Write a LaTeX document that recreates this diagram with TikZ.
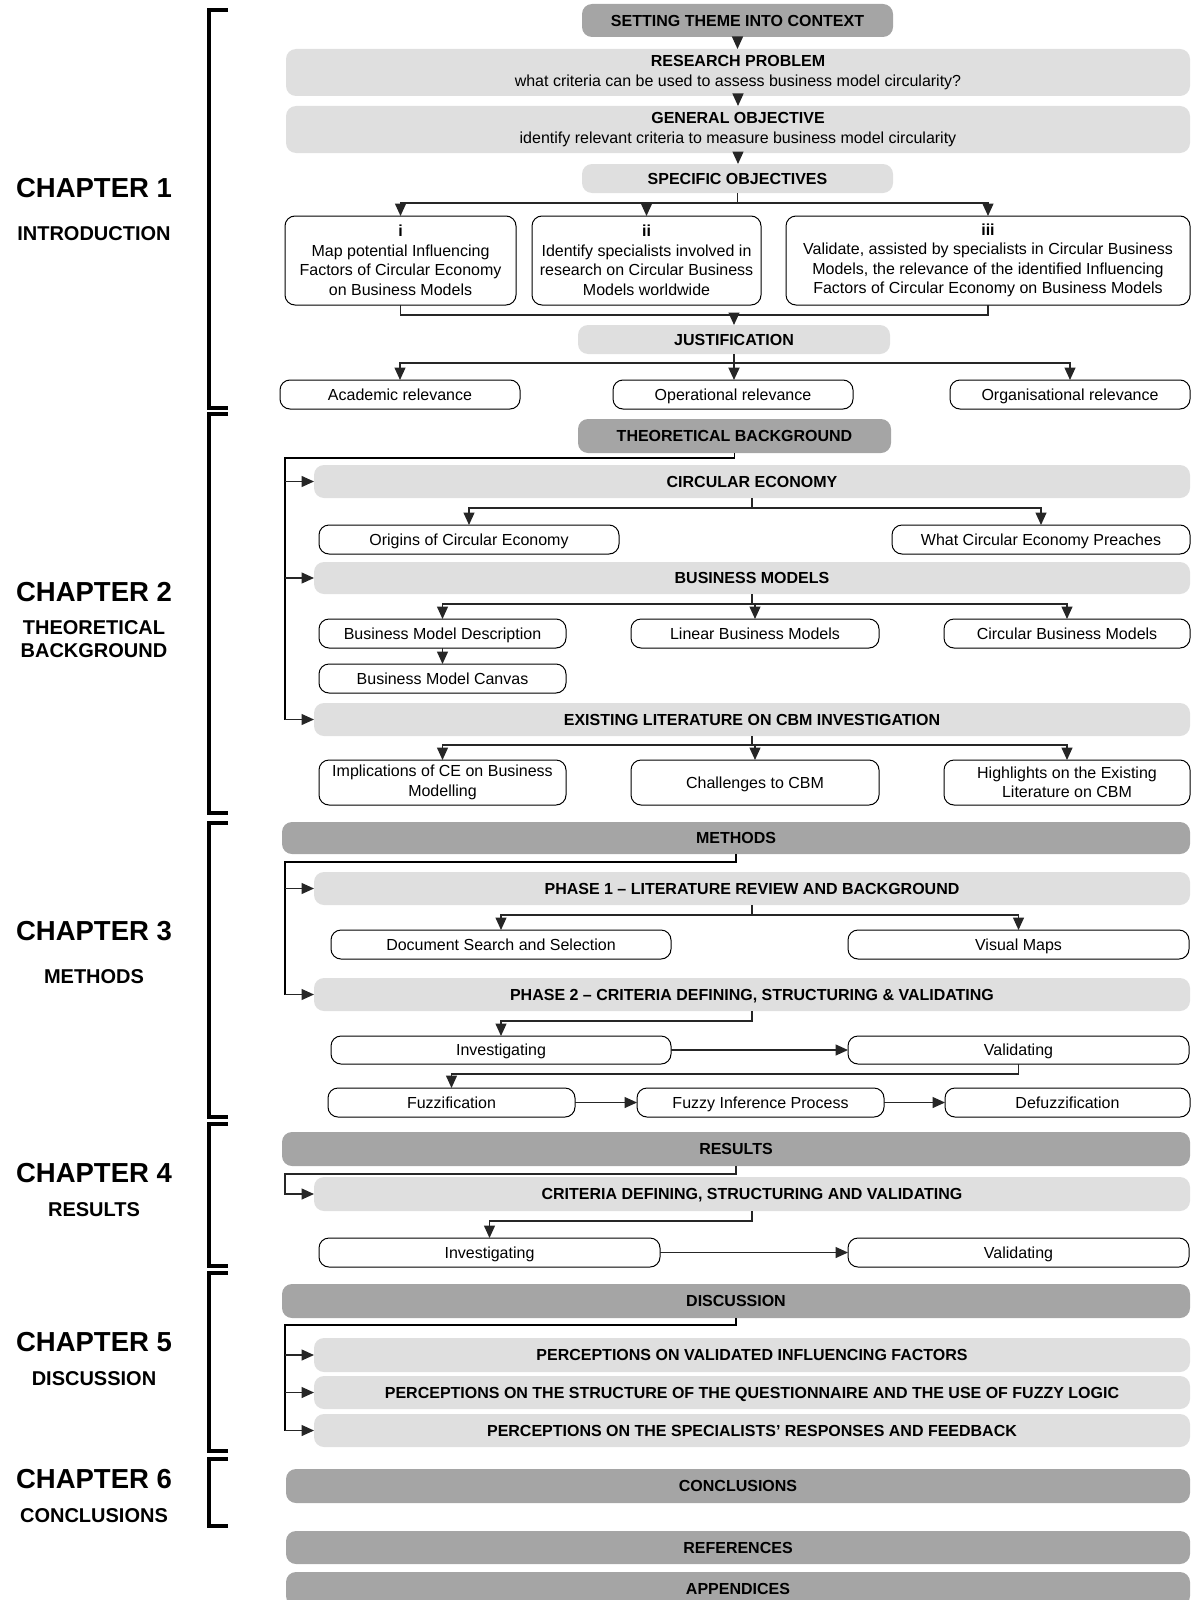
\documentclass[tikz,border=0pt]{standalone}
\usepackage{fontspec}
\setmainfont{Liberation Sans}
\usetikzlibrary{arrows.meta}
\definecolor{dk}{HTML}{A5A5A5}
\definecolor{lt}{HTML}{DFDFDF}
\begin{document}
\begin{tikzpicture}[x=1pt,y=-1pt,
  every node/.style={inner sep=0pt, outer sep=0pt, align=center, font=\fontsize{16}{19.5}\selectfont},
  wh/.style 2 args={minimum width=#1pt, minimum height=#2pt},
  oneline/.style={text height=11.5pt, text depth=0pt},
  dkbox/.style={oneline, fill=dk, rounded corners=10pt, font=\fontsize{16}{19.5}\selectfont\bfseries},
  ltbox/.style={oneline, fill=lt, rounded corners=10pt, font=\fontsize{16}{19.5}\selectfont\bfseries},
  ltsub/.style={fill=lt, rounded corners=10pt},
  wboxm/.style={draw=black, line width=1pt, fill=white, rounded corners=10pt},
  wbox/.style={wboxm, oneline},
  ln/.style={draw=black!85, line width=1.4pt},
  arr/.style={ln, -{Triangle[length=12.5pt,width=11pt]}},
  brk/.style={draw=black, line width=4.5pt},
  chap/.style={font=\fontsize{27.5}{30}\selectfont\bfseries},
  chsub/.style={font=\fontsize{20}{23}\selectfont\bfseries}]

\useasboundingbox (0,0) rectangle (1192,1600);

% ---------- chapter brackets ----------
\draw[brk] (228,10)   -| (209,408)  -- (228,408);
\draw[brk] (228,414)  -| (209,813)  -- (228,813);
\draw[brk] (228,823)  -| (209,1117) -- (228,1117);
\draw[brk] (228,1124) -| (209,1266) -- (228,1266);
\draw[brk] (228,1273) -| (209,1451) -- (228,1451);
\draw[brk] (228,1459) -| (209,1526) -- (228,1526);

% ---------- chapter labels ----------
\node[chap]  (c1)  at (94,188)  {CHAPTER 1};
\node[chsub] (c1s) at (94,234)  {INTRODUCTION};
\node[chap]  (c2)  at (94,592)  {CHAPTER 2};
\node[chsub] (c2s) at (94,639.5){THEORETICAL\\BACKGROUND};
\node[chap]  (c3)  at (94,931)  {CHAPTER 3};
\node[chsub] (c3s) at (94,977)  {METHODS};
\node[chap]  (c4)  at (94,1173) {CHAPTER 4};
\node[chsub] (c4s) at (94,1210) {RESULTS};
\node[chap]  (c5)  at (94,1342) {CHAPTER 5};
\node[chsub] (c5s) at (94,1379) {DISCUSSION};
\node[chap]  (c6)  at (94,1479) {CHAPTER 6};
\node[chsub] (c6s) at (94,1516) {CONCLUSIONS};

% ---------- chapter 1 ----------
\node[dkbox, wh={311}{33}] (stc) at (737.5,20.5) {SETTING THEME INTO CONTEXT};
\node[ltsub, wh={904}{47}] (rp) at (738,72.5) {\textbf{RESEARCH PROBLEM}\\what criteria can be used to assess business model circularity?};
\node[ltsub, wh={904}{47}] (go) at (738,129.5) {\textbf{GENERAL OBJECTIVE}\\identify relevant criteria to measure business model circularity};
\node[ltbox, wh={311}{29}] (so) at (737.5,178.5) {SPECIFIC OBJECTIVES};
\node[wboxm, wh={231}{89}] (oi) at (400.5,260.5) {\textbf{i}\\Map potential Influencing\\Factors of Circular Economy\\on Business Models};
\node[wboxm, wh={229}{89}] (oii) at (646.5,260.5) {\textbf{ii}\\Identify specialists involved in\\research on Circular Business\\Models worldwide};
\node[wboxm, wh={404}{89}] (oiii) at (988,260.5) {\textbf{iii}\\Validate, assisted by specialists in Circular Business\\Models, the relevance of the identified Influencing\\Factors of Circular Economy on Business Models};
\node[ltbox, wh={312}{29}] (just) at (734,339.5) {JUSTIFICATION};
\node[wbox, wh={240}{29}] (acad) at (400,394.5) {Academic relevance};
\node[wbox, wh={240}{29}] (oper) at (733,394.5) {Operational relevance};
\node[wbox, wh={240}{29}] (orga) at (1070,394.5) {Organisational relevance};

\draw[arr] (stc.south) -- (stc.south |- rp.north);
\draw[arr] (rp.south) -- (rp.south |- go.north);
\draw[arr] (go.south) -- (go.south |- so.north);
\draw[arr] (so.south) -- ++(0,10) -| (oi.north);
\draw[arr] (so.south) -- ++(0,10) -| (oii.north);
\draw[arr] (so.south) -- ++(0,10) -| (oiii.north);
\draw[ln] (oi.south) -- ++(0,10) coordinate (jb) -| (oiii.south);
\draw[arr] (just.north |- jb) -- (just.north);
\draw[arr] (just.south) -- ++(0,9) -| (acad.north);
\draw[arr, line width=2pt] (just.south) -- (just.south |- oper.north);
\draw[arr] (just.south) -- ++(0,9) -| (orga.north);

% ---------- chapter 2 ----------
\node[dkbox, wh={313}{34}] (tb) at (734.5,436) {THEORETICAL BACKGROUND};
\node[ltbox, wh={876}{33}] (ce) at (752,481.5) {CIRCULAR ECONOMY};
\node[wbox, wh={300}{29}] (orig) at (469,539.5) {Origins of Circular Economy};
\node[wbox, wh={298}{29}] (wcep) at (1041,539.5) {What Circular Economy Preaches};
\node[ltbox, wh={876}{32}] (bm) at (752,578) {BUSINESS MODELS};
\node[wbox, wh={247}{29}] (bmd) at (442.5,633.5) {Business Model Description};
\node[wbox, wh={248}{29}] (lbm) at (755,633.5) {Linear Business Models};
\node[wbox, wh={246}{29}] (cbm) at (1067,633.5) {Circular Business Models};
\node[wbox, wh={247}{29}] (bmc) at (442.5,678.5) {Business Model Canvas};
\node[ltbox, wh={876}{33}] (elci) at (752,719.5) {EXISTING LITERATURE ON CBM INVESTIGATION};
\node[wboxm, wh={247}{45}] (impl) at (442.5,782.5) {Implications of CE on Business\\Modelling};
\node[wbox, wh={248}{45}] (chal) at (755,782.5) {Challenges to CBM};
\node[wboxm, wh={246}{45}] (high) at (1067,782.5) {Highlights on the Existing\\Literature on CBM};

\coordinate (sp2) at (285,458);
\draw[ln, draw=black] (tb.south) |- (sp2) -- (sp2 |- elci.west);
\draw[arr] (sp2 |- ce.west) -- (ce.west);
\draw[arr] (sp2 |- bm.west) -- (bm.west);
\draw[arr] (sp2 |- elci.west) -- (elci.west);
\draw[arr] (ce.south) -- ++(0,10) -| (orig.north);
\draw[arr] (ce.south) -- ++(0,10) -| (wcep.north);
\draw[arr] (bm.south) -- ++(0,10) -| (bmd.north);
\draw[arr] (bm.south) -- ++(0,10) -| (lbm.north);
\draw[arr] (bm.south) -- ++(0,10) -| (cbm.north);
\draw[arr] (bmd.south) -- (bmc.north);
\draw[arr] (elci.south) -- ++(0,9) -| (impl.north);
\draw[arr] (elci.south) -- ++(0,9) -| (chal.north);
\draw[arr] (elci.south) -- ++(0,9) -| (high.north);

% ---------- chapter 3 ----------
\node[dkbox, wh={908}{32}] (meth) at (736,838) {METHODS};
\node[ltbox, wh={876}{33}] (ph1) at (752,888.5) {PHASE 1 – LITERATURE REVIEW AND BACKGROUND};
\node[wbox, wh={340}{29}] (doc) at (501,944.5) {Document Search and Selection};
\node[wbox, wh={341}{29}] (vis) at (1018.5,944.5) {Visual Maps};
\node[ltbox, wh={876}{33}] (ph2) at (752,994.5) {PHASE 2 – CRITERIA DEFINING, STRUCTURING \& VALIDATING};
\node[wbox, wh={340}{28}] (inv) at (501,1050) {Investigating};
\node[wbox, wh={341}{28}] (val) at (1018.5,1050) {Validating};
\node[wbox, wh={247}{29}] (fuz) at (451.5,1102.5) {Fuzzification};
\node[wbox, wh={247}{29}] (fip) at (760.5,1102.5) {Fuzzy Inference Process};
\node[wbox, wh={245}{29}] (def) at (1067.5,1102.5) {Defuzzification};

\coordinate (sp3) at (285,862);
\draw[ln, draw=black] (meth.south) |- (sp3) -- (sp3 |- ph2.west);
\draw[arr] (sp3 |- ph1.west) -- (ph1.west);
\draw[arr] (sp3 |- ph2.west) -- (ph2.west);
\draw[arr] (ph1.south) -- ++(0,10) -| (doc.north);
\draw[arr] (ph1.south) -- ++(0,10) -| (vis.north);
\draw[arr] (ph2.south) -- ++(0,10) -| (inv.north);
\draw[arr] (inv.east) -- (val.west);
\draw[arr] (val.south) -- ++(0,10) -| (fuz.north);
\draw[arr] (fuz.east) -- (fip.west);
\draw[arr] (fip.east) -- (def.west);

% ---------- chapter 4 ----------
\node[dkbox, wh={908}{34}] (res) at (736,1149) {RESULTS};
\node[ltbox, wh={876}{34}] (cdsv) at (752,1194) {CRITERIA DEFINING, STRUCTURING AND VALIDATING};
\node[wbox, wh={341}{29}] (inv2) at (489.5,1252.5) {Investigating};
\node[wbox, wh={341}{29}] (val2) at (1018.5,1252.5) {Validating};

\coordinate (sp4) at (285,1174);
\draw[arr] (res.south) |- (sp4) |- (cdsv.west);
\draw[arr] (cdsv.south) -- ++(0,10) -| (inv2.north);
\draw[arr] (inv2.east) -- (val2.west);

% ---------- chapter 5 ----------
\node[dkbox, wh={908}{34}] (disc) at (736,1301) {DISCUSSION};
\node[ltbox, wh={876}{34}] (p1) at (752,1355) {PERCEPTIONS ON VALIDATED INFLUENCING FACTORS};
\node[ltbox, wh={876}{33}] (p2) at (752,1392.5) {PERCEPTIONS ON THE STRUCTURE OF THE QUESTIONNAIRE AND THE USE OF FUZZY LOGIC};
\node[ltbox, wh={876}{33}] (p3) at (752,1430.5) {PERCEPTIONS ON THE SPECIALISTS’ RESPONSES AND FEEDBACK};

\coordinate (sp5) at (285,1325);
\draw[ln, draw=black] (disc.south) |- (sp5) -- (sp5 |- p3.west);
\draw[arr] (sp5 |- p1.west) -- (p1.west);
\draw[arr] (sp5 |- p2.west) -- (p2.west);
\draw[arr] (sp5 |- p3.west) -- (p3.west);

% ---------- chapter 6 and closing parts ----------
\node[dkbox, wh={904}{34}] (conc) at (738,1486) {CONCLUSIONS};
\node[dkbox, wh={904}{33}] (refs) at (738,1547.5) {REFERENCES};
\node[dkbox, wh={904}{34}] (app) at (738,1589) {APPENDICES};
\end{tikzpicture}
\end{document}
